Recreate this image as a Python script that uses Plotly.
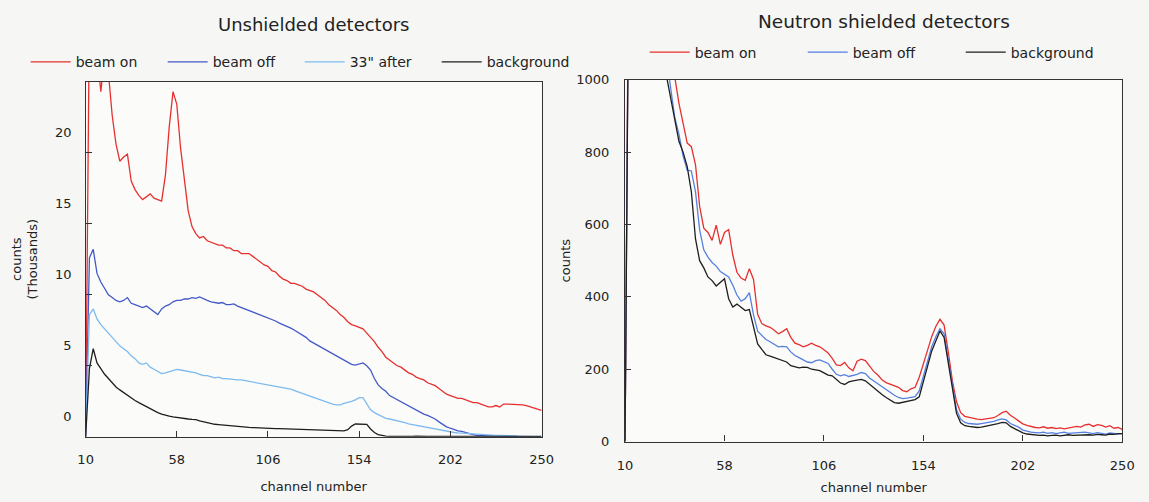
import plotly.graph_objects as go

# Channel numbers (every second channel)
channels = list(range(10, 251, 2))

# Unshielded detectors, counts in thousands
unshielded_beam_on = [
    0, 30, 30, 27, 24.3, 27, 25.6, 22.6, 20.6, 19.4,
    19.7, 19.9, 18.0, 17.4, 17.0, 16.7, 16.9, 17.1, 16.8, 16.7,
    16.6, 18.4, 21.8, 24.3, 23.4, 20.3, 18.0, 15.9, 14.8, 14.3,
    14.0, 14.1, 13.8, 13.7, 13.6, 13.5, 13.5, 13.3, 13.3, 13.1,
    13.1, 12.9, 12.9, 12.9, 12.7, 12.5, 12.3, 12.1, 12.0, 11.7,
    11.6, 11.3, 11.1, 11.0, 10.8, 10.8, 10.7, 10.6, 10.4, 10.3,
    10.2, 10.0, 9.8, 9.6, 9.3, 9.1, 8.9, 8.6, 8.4, 8.1,
    7.9, 7.8, 7.7, 7.6, 7.3, 7.0, 6.7, 6.3, 6.0, 5.6,
    5.4, 5.2, 5.0, 4.9, 4.7, 4.5, 4.4, 4.2, 4.1, 4.0,
    3.8, 3.7, 3.6, 3.4, 3.2, 3.0, 2.9, 2.8, 2.7, 2.7,
    2.6, 2.5, 2.4, 2.4, 2.3, 2.2, 2.1, 2.1, 2.2, 2.1,
    2.3, 2.3, 2.3, 2.3, 2.3, 2.25, 2.2, 2.1, 2.0, 1.95,
    1.85,
]
unshielded_beam_off = [
    0, 12.6, 13.2, 11.5, 10.9, 10.4, 10.0, 9.8, 9.6, 9.5,
    9.6, 9.8, 9.4, 9.3, 9.2, 9.1, 9.2, 9.0, 8.8, 8.6,
    9.0, 9.2, 9.3, 9.5, 9.6, 9.6, 9.7, 9.7, 9.8, 9.75,
    9.85, 9.7, 9.6, 9.5, 9.45, 9.4, 9.45, 9.3, 9.3, 9.35,
    9.2, 9.1, 9.0, 8.9, 8.8, 8.65, 8.55, 8.45, 8.35, 8.25,
    8.15, 8.0, 7.9, 7.8, 7.65, 7.5, 7.35, 7.15, 7.0, 6.75,
    6.6, 6.45, 6.3, 6.15, 6.0, 5.8, 5.65, 5.5, 5.35, 5.2,
    5.1, 5.05, 5.15, 5.2, 5.0, 4.7, 4.1, 3.65, 3.4, 3.2,
    2.9, 2.75, 2.6, 2.45, 2.3, 2.15, 2.0, 1.9, 1.75, 1.6,
    1.5, 1.4, 1.25, 1.05, 0.85, 0.7, 0.6, 0.5, 0.42, 0.38,
    0.3, 0.2, 0.15, 0.1, 0.08, 0.06, 0.05, 0.05, 0.04, 0.04,
    0.03, 0.03, 0.02, 0.02, 0.02, 0.0, 0.0, 0.0, 0.0, 0.0,
    0.0,
]
unshielded_33s_after = [
    0, 8.6, 9.0, 8.3, 7.9, 7.6, 7.3, 7.0, 6.7, 6.4,
    6.2, 6.0, 5.7, 5.5, 5.2, 5.1, 5.2, 4.9, 4.75, 4.6,
    4.45, 4.5, 4.6, 4.7, 4.75, 4.7, 4.65, 4.6, 4.6, 4.5,
    4.4, 4.3, 4.3, 4.25, 4.15, 4.2, 4.1, 4.1, 4.05, 4.0,
    4.0, 4.0, 3.95, 3.95, 3.9, 3.85, 3.8, 3.75, 3.7, 3.65,
    3.6, 3.55, 3.5, 3.4, 3.35, 3.25, 3.15, 3.05, 2.95, 2.85,
    2.8, 2.7, 2.6, 2.5, 2.4, 2.3, 2.25, 2.25, 2.35, 2.4,
    2.5, 2.6, 2.75, 2.75, 2.3, 1.9, 1.7, 1.55, 1.4, 1.3,
    1.25, 1.2, 1.1, 1.05, 1.0, 0.9, 0.85, 0.8, 0.72, 0.66,
    0.62, 0.58, 0.52, 0.47, 0.43, 0.38, 0.33, 0.3, 0.27, 0.25,
    0.22, 0.2, 0.17, 0.15, 0.13, 0.12, 0.11, 0.1, 0.1, 0.1,
    0.09, 0.08, 0.08, 0.06, 0.0, 0.0, 0.0, 0.0, 0.0, 0.0,
    0.0,
]
unshielded_background = [
    0, 4.8, 6.2, 5.2, 4.8, 4.4, 4.1, 3.8, 3.5, 3.3,
    3.1, 2.9, 2.75, 2.55, 2.4, 2.25, 2.1, 1.95, 1.8, 1.7,
    1.6, 1.5, 1.45, 1.4, 1.35, 1.3, 1.28, 1.25, 1.22, 1.2,
    1.12, 1.05, 0.98, 0.92, 0.88, 0.85, 0.82, 0.8, 0.77, 0.75,
    0.72, 0.7, 0.68, 0.66, 0.65, 0.63, 0.62, 0.62, 0.6, 0.6,
    0.58, 0.58, 0.57, 0.56, 0.55, 0.55, 0.54, 0.52, 0.5, 0.5,
    0.48, 0.47, 0.46, 0.45, 0.44, 0.43, 0.42, 0.42, 0.42, 0.5,
    0.75, 0.9, 0.9, 0.9, 0.88, 0.55, 0.3, 0.15, 0.08, 0.04,
    0.03, 0.02, 0.02, 0.02, 0.02, 0.02, 0.02, 0.04, 0.02, 0.02,
    0.02, 0.02, 0.02, 0.02, 0.02, 0.02, 0.02, 0.02, 0.02, 0.02,
    0.02, 0.02, 0.02, 0.02, 0.02, 0.02, 0.02, 0.02, 0.02, 0.02,
    0.02, 0.02, 0.02, 0.02, 0.02, 0.02, 0.02, 0.02, 0.02, 0.02,
    0.02,
]

# Neutron shielded detectors, counts
shielded_beam_on = [
    0, 1600, 1550, 1500, 1450, 1400, 1350, 1300, 1250, 1200,
    1150, 1080, 1010, 935, 880, 825, 815, 765, 650, 590,
    578, 556, 598, 545, 578, 586, 515, 468, 452, 446,
    478, 448, 352, 326, 320, 316, 308, 298, 304, 312,
    288, 272, 268, 262, 266, 272, 266, 262, 254, 245,
    230, 212, 210, 219, 204, 196, 222, 228, 224, 210,
    194, 184, 171, 163, 158, 155, 150, 141, 138, 146,
    150, 178, 218, 252, 290, 318, 338, 322, 248, 168,
    110, 80, 70, 67, 64, 62, 61, 63, 65, 66,
    72, 80, 84, 73, 65, 56, 49, 45, 41, 39,
    38, 41, 37, 39, 36, 38, 35, 37, 41, 42,
    40, 46, 48, 42, 47, 45, 40, 44, 37, 39,
    34,
]
shielded_beam_off = [
    0, 1550, 1500, 1450, 1400, 1350, 1300, 1250, 1200, 1130,
    1060, 980, 895, 850, 790, 750, 748, 690, 585, 530,
    510, 495, 485, 470, 462, 455, 432, 405, 388, 395,
    412, 350, 305, 292, 282, 276, 268, 262, 263, 262,
    248, 238, 232, 226, 220, 218, 224, 226, 222, 216,
    200, 186, 182, 185, 180, 182, 186, 191, 188, 176,
    168, 158, 150, 144, 134, 128, 122, 119, 120, 121,
    124, 140, 180, 222, 262, 290, 312, 298, 230, 150,
    88, 62, 53, 50, 49, 48, 50, 52, 53, 56,
    60, 63, 60, 50, 45, 40, 32, 28, 26, 25,
    24, 26, 23, 25, 22, 24, 26, 23, 24, 25,
    27, 26, 24, 22, 25, 23, 21, 24, 22, 21,
    22,
]
shielded_background = [
    0, 1500, 1450, 1400, 1350, 1300, 1250, 1200, 1140, 1070,
    1010, 950, 880, 830, 800, 760, 690, 560, 500, 480,
    455, 445, 430, 440, 450, 395, 372, 380, 370, 362,
    365, 315, 270, 255, 240, 236, 232, 228, 226, 220,
    210, 206, 204, 206, 205, 200, 198, 196, 190, 184,
    182, 172, 162, 158, 165, 168, 170, 172, 168, 158,
    148, 138, 130, 122, 115, 108, 106, 108, 112, 114,
    116, 124, 165, 208, 250, 278, 306, 288, 215, 150,
    78, 52, 44, 42, 40, 39, 40, 42, 44, 46,
    50, 53, 52, 42, 36, 30, 24, 21, 19, 18,
    17, 18, 16, 17, 18, 16, 17, 19, 17, 18,
    17, 18, 19, 18, 20, 19, 18, 21, 20, 22,
    22,
]

channel_ticks = [10, 58, 106, 154, 202, 250]
unshielded_ticks = [0, 5, 10, 15, 20]
shielded_ticks = [0, 200, 400, 600, 800, 1000]

RED = "#e6302f"
BLUE = "#4459c6"
LIGHT_BLUE = "#7dbbef"
BLACK = "#1e1e1e"
BLUE_R = "#5580e2"
FRAME = "#333333"

fig = go.Figure()

left_series = [
    ("beam on", unshielded_beam_on, RED),
    ("beam off", unshielded_beam_off, BLUE),
    ("33\" after", unshielded_33s_after, LIGHT_BLUE),
    ("background", unshielded_background, BLACK),
]
for name, vals, col in left_series:
    assert len(vals) == len(channels)
    fig.add_trace(go.Scatter(
        x=channels, y=vals, name=name, mode="lines",
        line=dict(color=col, width=1.3),
        xaxis="x", yaxis="y", legend="legend",
    ))

right_series = [
    ("beam on", shielded_beam_on, RED),
    ("beam off", shielded_beam_off, BLUE_R),
    ("background", shielded_background, BLACK),
]
for name, vals, col in right_series:
    assert len(vals) == len(channels)
    fig.add_trace(go.Scatter(
        x=channels, y=vals, name=name, mode="lines",
        line=dict(color=col, width=1.3),
        xaxis="x2", yaxis="y2", legend="legend2",
    ))

# label-only axis for the left panel (labels sit above their ticks)
fig.add_trace(go.Scatter(x=[], y=[], xaxis="x", yaxis="y3",
                         showlegend=False, hoverinfo="skip"))

W, H = 1149, 502


def px_x(a, b):
    return [a / W, b / W]


def px_y(top, bottom):
    return [(H - bottom) / H, (H - top) / H]


axis_common = dict(
    showline=True, mirror=True, linecolor=FRAME, linewidth=1.3,
    ticks="inside", ticklen=6, tickcolor=FRAME, tickwidth=1.2,
    showgrid=False, zeroline=False,
)

fig.update_layout(
    width=W, height=H,
    margin=dict(l=0, r=0, t=0, b=0),
    paper_bgcolor="#f6f6f4",
    plot_bgcolor="#fbfbf9",
    font=dict(family="DejaVu Sans", size=13, color="#222222"),
    showlegend=True,
    xaxis=dict(
        domain=px_x(79, 543), range=[10, 250], tickvals=channel_ticks,
        anchor="y", ticklabelstandoff=10,
        title=dict(text="channel number", standoff=16,
                   font=dict(size=13)),
        **axis_common,
    ),
    yaxis=dict(
        domain=px_y(77, 443), range=[0, 25], tickvals=unshielded_ticks,
        anchor="x", showticklabels=False,
        title=dict(text="counts<br>(Thousands)", standoff=43,
                   font=dict(size=13)),
        **axis_common,
    ),
    yaxis3=dict(
        overlaying="y", anchor="x", side="left",
        range=[-1.43, 23.57], tickvals=unshielded_ticks,
        ticks="", showline=False, showgrid=False, zeroline=False,
        ticklabelstandoff=13,
    ),
    xaxis2=dict(
        domain=px_x(628, 1134), range=[10, 250], tickvals=channel_ticks,
        anchor="y2", ticklabelstandoff=12,
        title=dict(text="channel number", standoff=10,
                   font=dict(size=13)),
        **axis_common,
    ),
    yaxis2=dict(
        domain=px_y(75, 448), range=[0, 1000], tickvals=shielded_ticks,
        anchor="x2", ticklabelstandoff=12,
        title=dict(text="counts", standoff=2, font=dict(size=13)),
        **axis_common,
    ),
    legend=dict(
        orientation="h", x=18 / W, y=(H - 57) / H,
        xanchor="left", yanchor="middle",
        itemwidth=40,
        entrywidthmode="pixels", entrywidth=82,
        bgcolor="rgba(0,0,0,0)", font=dict(size=14),
        itemclick=False, itemdoubleclick=False,
    ),
    legend2=dict(
        orientation="h", x=648 / W, y=(H - 47) / H,
        xanchor="left", yanchor="middle",
        itemwidth=40,
        entrywidthmode="pixels", entrywidth=103,
        bgcolor="rgba(0,0,0,0)", font=dict(size=14),
        itemclick=False, itemdoubleclick=False,
    ),
    annotations=[
        dict(text="Unshielded detectors", x=311 / W, y=(H - 18) / H,
             xref="paper", yref="paper", showarrow=False,
             xanchor="center", yanchor="middle",
             font=dict(size=18)),
        dict(text="Neutron shielded detectors", x=892 / W, y=(H - 15) / H,
             xref="paper", yref="paper", showarrow=False,
             xanchor="center", yanchor="middle",
             font=dict(size=18.5)),
    ],
)

fig.write_html("out.html")
